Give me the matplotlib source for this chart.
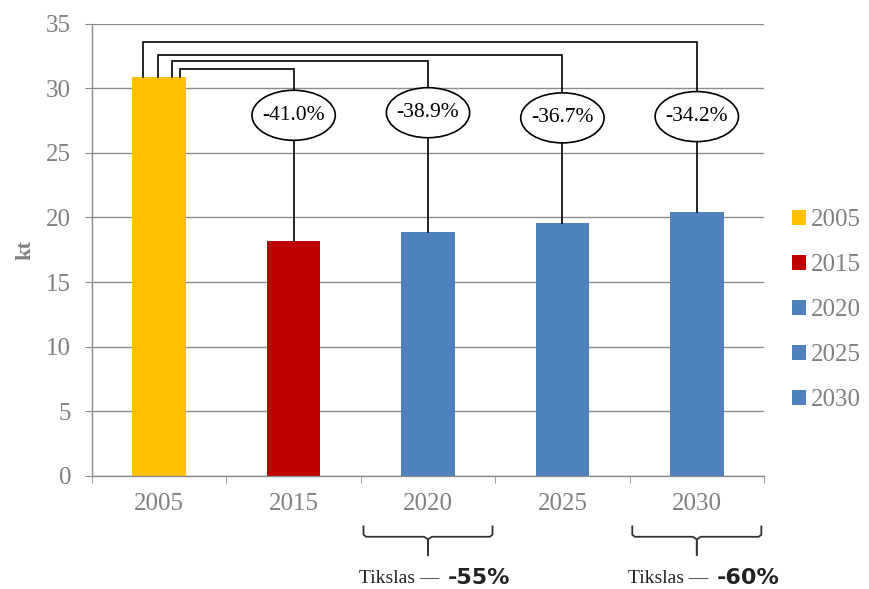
import matplotlib
matplotlib.use('Agg')
import matplotlib.pyplot as plt
from matplotlib.patches import Ellipse, Patch
import numpy as np

# data
years = ['2005', '2015', '2020', '2025', '2030']
emissions = [30.9, 18.2, 18.9, 19.6, 20.4]
bar_colors = ['#FFC000', '#C00000', '#4F81BD', '#4F81BD', '#4F81BD']
changes = ['-41.0%', '-38.9%', '-36.7%', '-34.2%']
targets = [('2020', '-55%'), ('2030', '-60%')]

serif = 'Liberation Serif'
gray = '#808080'

fig = plt.figure(figsize=(8.7, 5.89), dpi=100)
ax = fig.add_axes([92 / 870, 1 - 476 / 589, (764 - 92) / 870, (476 - 23.5) / 589])

x = np.arange(len(years))
ax.bar(x, emissions, width=0.4, color=bar_colors, zorder=2)

ax.set_xlim(-0.5, len(years) - 0.5)
ax.set_ylim(0, 35)
ax.set_yticks(range(0, 36, 5))
ax.set_xticks(x)
ax.set_xticklabels(years)
ax.set_xticks(np.arange(-0.5, len(years)), minor=True)
ax.set_axisbelow(True)
ax.yaxis.grid(True, color='#8c8c8c', linewidth=1)

for s in ['top', 'right']:
    ax.spines[s].set_visible(False)
for s in ['left', 'bottom']:
    ax.spines[s].set_color('#8c8c8c')
    ax.spines[s].set_linewidth(1)

ax.tick_params(axis='x', which='major', length=0, pad=12)
ax.tick_params(axis='x', which='minor', length=5, color='#8c8c8c', direction='out')
ax.tick_params(axis='y', length=5, color='#8c8c8c', pad=10)
for lab in ax.get_xticklabels() + ax.get_yticklabels():
    lab.set_fontfamily(serif)
    lab.set_fontsize(18)
    lab.set_color(gray)

ax.set_ylabel('kt', fontfamily=serif, fontsize=16, fontweight='bold', color=gray, labelpad=8)

# brackets from the 2005 bar to each later bar
left_x = [0.156, 0.097, -0.007, -0.119]
top_y = [31.5, 32.1, 32.6, 33.6]
ell_y = [27.9, 28.1, 27.7, 27.8]
for i, lab in enumerate(changes):
    xi = i + 1
    ax.plot([left_x[i], left_x[i], xi, xi], [emissions[0], top_y[i], top_y[i], emissions[xi]],
            color='black', linewidth=1.2, zorder=3, solid_joinstyle='miter')
    e = Ellipse((xi, ell_y[i]), 0.62, 3.87, facecolor='white', edgecolor='black',
                linewidth=1.2, zorder=4)
    ax.add_patch(e)
    ax.text(xi, ell_y[i], lab, ha='center', va='center', fontfamily=serif,
            fontsize=15.5, zorder=5)

# target braces under the axis
for yr, pct in targets:
    xc = years.index(yr)
    x0 = xc - 0.48
    bx = [x0, x0, x0 + 0.02, xc - 0.03, xc, xc]
    by = [-3.9, -4.55, -4.7, -4.7, -4.9, -6.1]
    ax.plot(bx, by, color='#333333', linewidth=1.3, clip_on=False)
    ax.plot([2 * xc - v for v in bx], by, color='#333333', linewidth=1.3, clip_on=False)
    ax.text(xc - 0.51, -7.9, 'Tikslas \u2014', ha='left', va='center', fontfamily=serif,
            fontsize=14, color='#222222', clip_on=False)
    ax.text(xc + 0.15, -7.9, pct, ha='left', va='center', fontfamily='DejaVu Sans',
            fontweight='bold', fontsize=16, color='#222222', clip_on=False)

handles = [Patch(facecolor=c, edgecolor='none') for c in bar_colors]
leg = fig.legend(handles, years, loc='upper left', bbox_to_anchor=(792 / 870, 1 - 209 / 589),
                 frameon=False, handlelength=0.55, handleheight=0.55, handletextpad=0.2,
                 labelspacing=0.92, prop={'family': serif, 'size': 18}, borderaxespad=0,
                 borderpad=0)
for t in leg.get_texts():
    t.set_color(gray)

fig.savefig('out.png', dpi=100)
